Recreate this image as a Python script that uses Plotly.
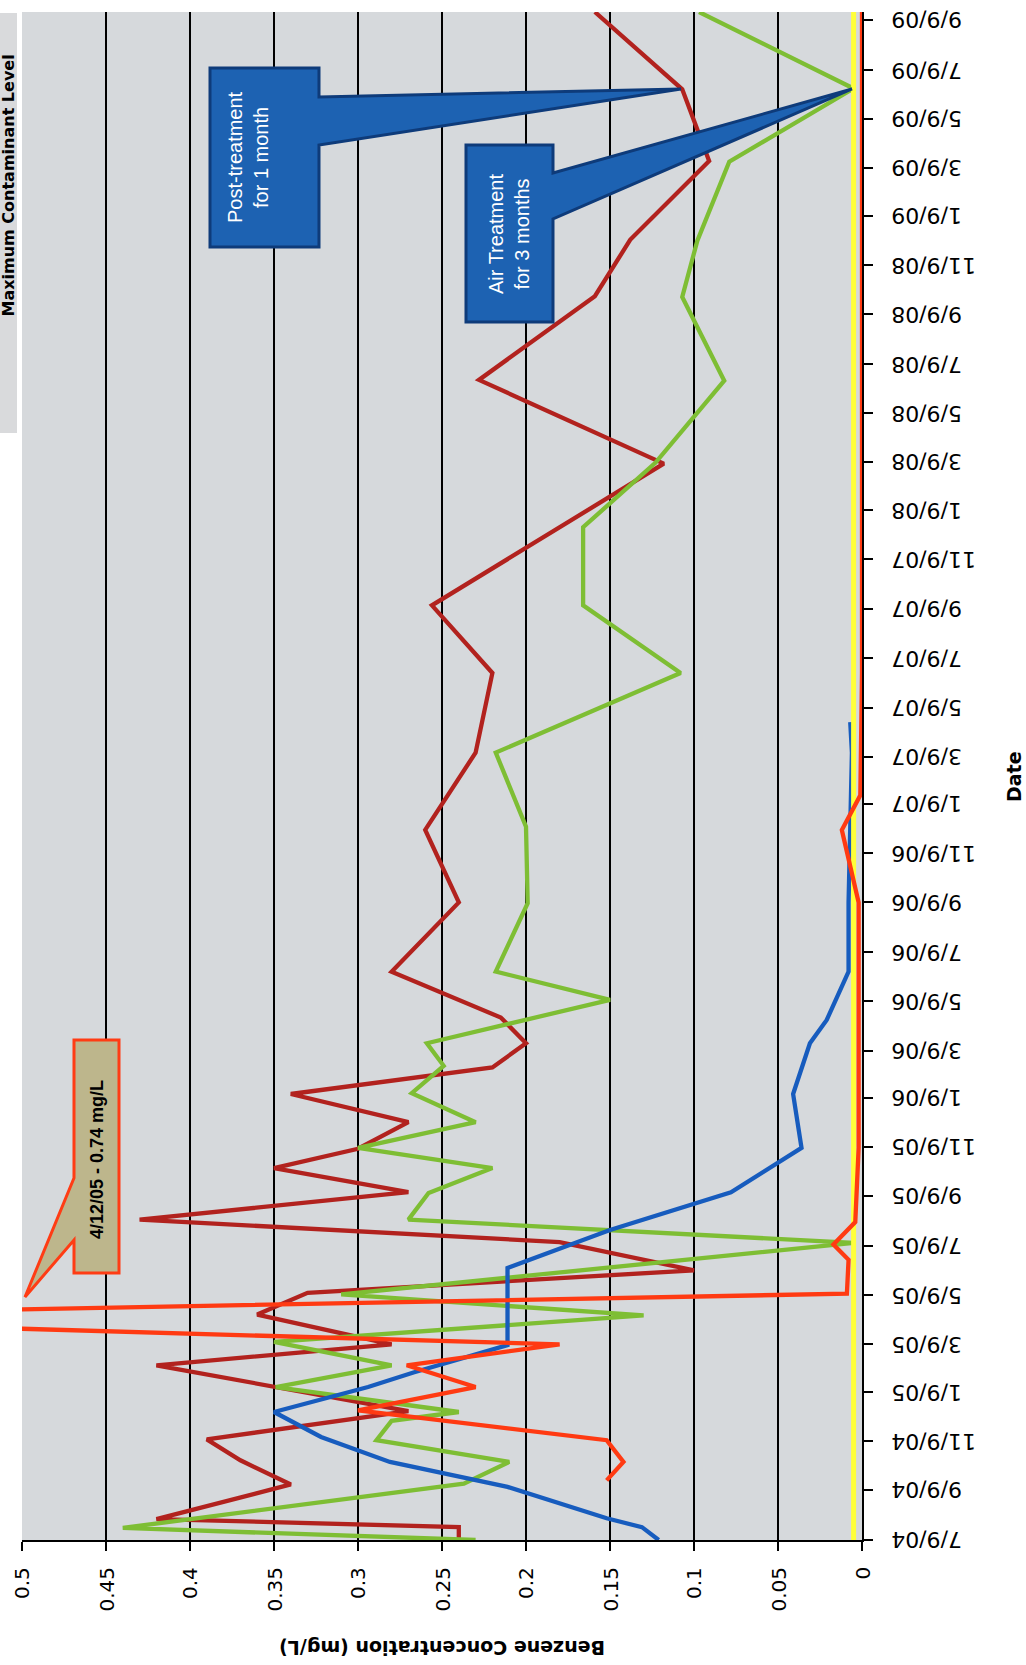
import plotly.graph_objects as go

# ---------------- data ----------------
well_a_dates = ["2004-07-09", "2004-07-25", "2004-08-04", "2004-09-16", "2004-10-16", "2004-11-11",
                "2004-12-16", "2005-02-11", "2005-03-09", "2005-04-15", "2005-05-12", "2005-06-09",
                "2005-07-14", "2005-08-11", "2005-09-14", "2005-10-14", "2005-11-07", "2005-12-10",
                "2006-01-14", "2006-02-16", "2006-03-18", "2006-04-19", "2006-06-15", "2006-09-09",
                "2006-12-08", "2007-03-14", "2007-06-21", "2007-09-13", "2008-03-07", "2008-06-19",
                "2008-10-01", "2008-12-10", "2009-03-18", "2009-04-25", "2009-06-15", "2009-09-19"]
well_a_values = [0.24, 0.24, 0.42, 0.34, 0.37, 0.39,
                 0.27, 0.42, 0.28, 0.36, 0.33, 0.10,
                 0.18, 0.43, 0.27, 0.35, 0.30, 0.27,
                 0.34, 0.22, 0.20, 0.215, 0.28, 0.24,
                 0.26, 0.23, 0.22, 0.256, 0.118, 0.228,
                 0.159, 0.138, 0.091, 0.098, 0.107, 0.159]

well_b_dates = ["2004-07-09", "2004-07-24", "2004-09-17", "2004-10-14", "2004-11-10", "2004-12-04",
                "2004-12-15", "2005-01-15", "2005-02-11", "2005-03-12", "2005-04-14", "2005-05-10",
                "2005-07-13", "2005-08-11", "2005-09-13", "2005-10-14", "2005-11-08", "2005-12-10",
                "2006-01-15", "2006-02-18", "2006-03-18", "2006-05-11", "2006-06-15", "2006-09-08",
                "2006-12-12", "2007-03-14", "2007-06-21", "2007-09-13", "2007-12-19", "2008-03-08",
                "2008-06-18", "2008-09-30", "2008-12-09", "2009-03-17", "2009-06-16", "2009-09-19"]
well_b_values = [0.23, 0.44, 0.237, 0.21, 0.289, 0.28,
                 0.24, 0.349, 0.28, 0.35, 0.13, 0.31,
                 0.005, 0.27, 0.258, 0.22, 0.30, 0.23,
                 0.268, 0.249, 0.259, 0.15, 0.218, 0.199,
                 0.20, 0.218, 0.108, 0.166, 0.166, 0.123,
                 0.082, 0.107, 0.098, 0.079, 0.005, 0.097]

well_c_dates = ["2004-07-09", "2004-07-25", "2004-08-05", "2004-09-13", "2004-10-14", "2004-11-14",
                "2004-12-15", "2005-01-15", "2005-02-02", "2005-03-08", "2005-06-12", "2005-07-29",
                "2005-09-14", "2005-11-08", "2006-01-14", "2006-03-18", "2006-04-16", "2006-06-15",
                "2006-09-09", "2006-12-08", "2007-03-14", "2007-04-21"]
well_c_values = [0.121, 0.131, 0.152, 0.211, 0.281, 0.322,
                 0.35, 0.294, 0.267, 0.211, 0.211, 0.15,
                 0.078, 0.036, 0.041, 0.031, 0.021, 0.008,
                 0.008, 0.007, 0.006, 0.007]

well_d_dates = ["2004-09-21", "2004-10-14", "2004-11-10", "2004-12-17", "2005-01-15", "2005-02-11",
                "2005-03-09", "2005-04-12", "2005-05-11", "2005-06-22", "2005-07-11", "2005-08-08",
                "2005-11-08", "2006-03-18", "2006-09-09", "2006-12-08", "2007-01-20", "2007-06-21",
                "2008-03-07", "2008-10-01", "2009-03-18", "2009-09-19"]
well_d_values = [0.152, 0.142, 0.152, 0.30, 0.23, 0.271,
                 0.18, 0.74, 0.009, 0.008, 0.017, 0.004,
                 0.002, 0.002, 0.002, 0.012, 0.001, 0.0,
                 0.0, 0.0, 0.0, 0.0]

mcl_dates = ["2004-07-09", "2009-09-19"]
mcl_values = [0.005, 0.005]

value_ticks = [0, 0.05, 0.1, 0.15, 0.2, 0.25, 0.3, 0.35, 0.4, 0.45, 0.5]
value_tick_labels = ["0", "0.05", "0.1", "0.15", "0.2", "0.25", "0.3", "0.35", "0.4", "0.45", "0.5"]

date_ticks = ["2004-07-09", "2004-09-09", "2004-11-09", "2005-01-09", "2005-03-09", "2005-05-09",
              "2005-07-09", "2005-09-09", "2005-11-09", "2006-01-09", "2006-03-09", "2006-05-09",
              "2006-07-09", "2006-09-09", "2006-11-09", "2007-01-09", "2007-03-09", "2007-05-09",
              "2007-07-09", "2007-09-09", "2007-11-09", "2008-01-09", "2008-03-09", "2008-05-09",
              "2008-07-09", "2008-09-09", "2008-11-09", "2009-01-09", "2009-03-09", "2009-05-09",
              "2009-07-09", "2009-09-09"]
date_tick_labels = ["7/9/04", "9/9/04", "11/9/04", "1/9/05", "3/9/05", "5/9/05",
                    "7/9/05", "9/9/05", "11/9/05", "1/9/06", "3/9/06", "5/9/06",
                    "7/9/06", "9/9/06", "11/9/06", "1/9/07", "3/9/07", "5/9/07",
                    "7/9/07", "9/9/07", "11/9/07", "1/9/08", "3/9/08", "5/9/08",
                    "7/9/08", "9/9/08", "11/9/08", "1/9/09", "3/9/09", "5/9/09",
                    "7/9/09", "9/9/09"]

date_range = ["2004-07-09", "2009-09-19"]

# ---------------- figure ----------------
W, H = 1026, 1665
L, R, T, B = 22, 164, 12, 125
PW, PH = W - L - R, H - T - B


def px(X):
    return (X - L) / PW


def py(Y):
    return (H - B - Y) / PH


fig = go.Figure()

series = [
    ("Well A", well_a_dates, well_a_values, "#B2221E", 4.3),
    ("Well B", well_b_dates, well_b_values, "#7EBE34", 4.3),
    ("Well C", well_c_dates, well_c_values, "#175CBE", 4.3),
    ("Maximum Contaminant Level", mcl_dates, mcl_values, "#FFFF3A", 5),
    ("Well D", well_d_dates, well_d_values, "#FF3A12", 4.3),
]
for name, d, v, c, w in series:
    fig.add_trace(go.Scatter(x=v, y=d, mode="lines", name=name,
                             line=dict(color=c, width=w)))

fig.update_layout(
    width=W, height=H,
    margin=dict(l=L, r=R, t=T, b=B),
    paper_bgcolor="white",
    plot_bgcolor="#D6D9DC",
    showlegend=False,
    font=dict(family="DejaVu Sans", color="black"),
)

fig.update_xaxes(
    range=[0.5, 0], tickvals=value_ticks, showticklabels=False,
    ticks="outside", ticklen=9, tickwidth=2, tickcolor="black",
    showline=True, linecolor="black", linewidth=2,
    showgrid=True, gridcolor="black", gridwidth=1.6, zeroline=False,
)
fig.update_yaxes(
    type="date", side="right", range=date_range,
    tickvals=date_ticks, showticklabels=False,
    ticks="outside", ticklen=9, tickwidth=2, tickcolor="black",
    showline=True, linecolor="black", linewidth=2,
    showgrid=False, zeroline=False,
)

shapes = []
# legend box at top-left edge
shapes.append(dict(type="rect", xref="paper", yref="paper",
                   x0=px(-30), x1=px(17), y0=py(433), y1=py(13),
                   fillcolor="#D9DADC", line=dict(width=0), layer="above"))


def path(points):
    return "M " + " L ".join(f"{px(x):.5f},{py(y):.5f}" for x, y in points) + " Z"


# callout: 4/12/05 spike
shapes.append(dict(type="path", xref="paper", yref="paper",
                   path=path([(74, 1040), (119, 1040), (119, 1273), (74, 1273), (74, 1240),
                              (25, 1297), (74, 1178)]),
                   fillcolor="#BDB68C", line=dict(color="#FF3C14", width=3), layer="above"))
# callout: post-treatment
shapes.append(dict(type="path", xref="paper", yref="paper",
                   path=path([(210, 68), (319, 68), (319, 97), (681, 89), (319, 145),
                              (319, 247), (210, 247)]),
                   fillcolor="#1D62B2", line=dict(color="#0E3B7A", width=3), layer="above"))
# callout: air treatment
shapes.append(dict(type="path", xref="paper", yref="paper",
                   path=path([(466, 145), (553, 145), (553, 173), (852, 89), (553, 219),
                              (553, 322), (466, 322)]),
                   fillcolor="#1D62B2", line=dict(color="#0E3B7A", width=3), layer="above"))
fig.update_layout(shapes=shapes)

ann = []
# date tick labels (upside down, to the right of the date axis)
for d, lab in zip(date_ticks, date_tick_labels):
    ann.append(dict(xref="paper", yref="y", x=px(889), y=d, text=lab, textangle=180,
                    showarrow=False, xanchor="left", yanchor="middle",
                    font=dict(family="DejaVu Sans", size=22, color="black")))
# value tick labels (reading bottom-to-top, below the value axis)
for v, lab in zip(value_ticks, value_tick_labels):
    ann.append(dict(xref="x", yref="paper", x=v, y=py(1565), text=lab, textangle=-90,
                    showarrow=False, xanchor="center", yanchor="top",
                    font=dict(family="DejaVu Sans", size=20, color="black")))

ann.append(dict(xref="paper", yref="paper", x=px(8.5), y=py(186), text="<b>Maximum Contaminant Level</b>",
                textangle=-90, showarrow=False, xanchor="center", yanchor="middle",
                font=dict(family="DejaVu Sans", size=16, color="black")))
ann.append(dict(xref="paper", yref="paper", x=px(442), y=py(1648),
                text="<b>Benzene Concentration (mg/L)</b>", textangle=180, showarrow=False,
                xanchor="center", yanchor="middle",
                font=dict(family="DejaVu Sans", size=19, color="black")))
ann.append(dict(xref="paper", yref="paper", x=px(1014), y=py(777),
                text="<b>Date</b>", textangle=-90, showarrow=False,
                xanchor="center", yanchor="middle",
                font=dict(family="DejaVu Sans", size=19, color="black")))
ann.append(dict(xref="paper", yref="paper", x=px(97), y=py(1160),
                text="<b>4/12/05 - 0.74 mg/L</b>", textangle=-90, showarrow=False,
                xanchor="center", yanchor="middle",
                font=dict(family="Liberation Sans", size=18, color="black")))
ann.append(dict(xref="paper", yref="paper", x=px(248), y=py(157),
                text="Post-treatment<br>for 1 month", textangle=-90, showarrow=False,
                xanchor="center", yanchor="middle",
                font=dict(family="Liberation Sans", size=20, color="white")))
ann.append(dict(xref="paper", yref="paper", x=px(509), y=py(234),
                text="Air Treatment<br>for 3 months", textangle=-90, showarrow=False,
                xanchor="center", yanchor="middle",
                font=dict(family="Liberation Sans", size=20, color="white")))
fig.update_layout(annotations=ann)

fig.write_html("out.html",
               config={"displayModeBar": False},
               post_script="document.body.style.margin='0';document.body.style.overflow='hidden';")
